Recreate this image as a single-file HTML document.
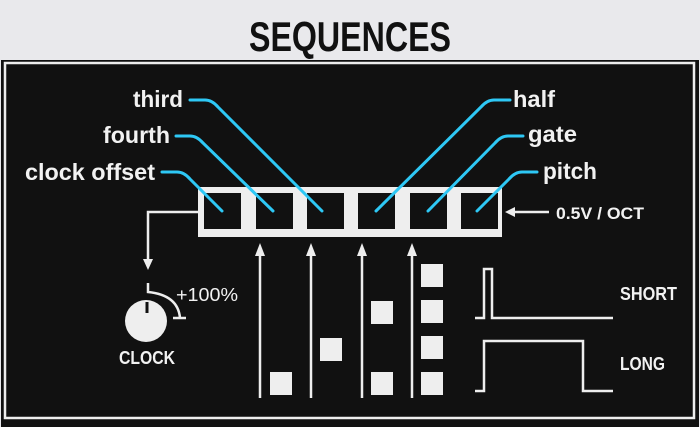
<!DOCTYPE html>
<html><head><meta charset="utf-8"><style>
html,body{margin:0;padding:0;background:#e9e9ec;}
svg{display:block}
text{font-family:"Liberation Sans Narrow","Liberation Sans",sans-serif;fill:#f2f2f2}
</style></head><body>
<svg width="700" height="427" viewBox="0 0 700 427" xmlns="http://www.w3.org/2000/svg">
<rect x="0" y="0" width="700" height="427" fill="#e9e9ec"/>
<text x="350" y="51" text-anchor="middle" font-size="42" font-weight="bold" style="fill:#111" textLength="202" lengthAdjust="spacingAndGlyphs">SEQUENCES</text>
<rect x="1" y="60" width="698" height="367" fill="#111"/>
<rect x="5" y="63" width="689" height="355" fill="none" stroke="#eee" stroke-width="2.5"/>
<!-- box row -->
<rect x="198" y="187" width="304" height="50" fill="#eee"/>
<g fill="#111">
<rect x="204" y="193" width="37" height="36"/><rect x="256" y="193" width="37" height="36"/><rect x="307" y="193" width="37" height="36"/><rect x="358" y="193" width="37" height="36"/><rect x="410" y="193" width="37" height="36"/><rect x="461" y="193" width="37" height="36"/>
</g>
<!-- cyan leaders -->
<g fill="none" stroke="#2ec8f5" stroke-width="3" stroke-linecap="round">
<path d="M190,100 H205 Q212,100 218,107 L322,211"/>
<path d="M176,136 H190 Q197,136 203,143 L273,211"/>
<path d="M162,172 H177 Q184,172 190,179 L222,211"/>
<path d="M510,100 H494 Q487,100 481,107 L376,211"/>
<path d="M523,136 H508 Q501,136 495,143 L428,211"/>
<path d="M537,172 H522 Q515,172 509,179 L477,211"/>
</g>
<!-- labels -->
<g font-size="23" font-weight="bold">
<text x="133" y="107" textLength="50" lengthAdjust="spacingAndGlyphs">third</text>
<text x="103" y="143" textLength="67" lengthAdjust="spacingAndGlyphs">fourth</text>
<text x="25" y="180" textLength="130" lengthAdjust="spacingAndGlyphs">clock offset</text>
<text x="513" y="107" textLength="42" lengthAdjust="spacingAndGlyphs">half</text>
<text x="528" y="142" textLength="49" lengthAdjust="spacingAndGlyphs">gate</text>
<text x="543" y="179" textLength="54" lengthAdjust="spacingAndGlyphs">pitch</text>
</g>
<!-- 0.5V/OCT arrow -->
<line x1="549" y1="212" x2="512" y2="212" stroke="#eee" stroke-width="2.5"/>
<path d="M505,212 L515,207 L515,217 Z" fill="#eee"/>
<text x="556" y="219" font-size="17" font-weight="bold" textLength="88" lengthAdjust="spacingAndGlyphs">0.5V / OCT</text>
<!-- clock output -->
<path d="M198,212 H148 V262" fill="none" stroke="#eee" stroke-width="2.5"/>
<path d="M148,270 L143,259 L153,259 Z" fill="#eee"/>
<circle cx="146" cy="321" r="21" fill="#eee"/>
<line x1="147" y1="302" x2="147" y2="313" stroke="#111" stroke-width="3"/>
<path d="M148,283 V292 Q178,295 180,318" fill="none" stroke="#eee" stroke-width="2.5"/>
<line x1="173" y1="318" x2="186" y2="318" stroke="#eee" stroke-width="2.5"/>
<text x="176" y="301" font-size="18" textLength="62" lengthAdjust="spacingAndGlyphs">+100%</text>
<text x="119" y="364" font-size="18" font-weight="bold" textLength="56" lengthAdjust="spacingAndGlyphs">CLOCK</text>
<!-- vertical arrows -->
<g stroke="#eee" stroke-width="2.5">
<line x1="260" y1="398" x2="260" y2="252"/><line x1="311" y1="398" x2="311" y2="252"/><line x1="362" y1="398" x2="362" y2="252"/><line x1="412" y1="398" x2="412" y2="252"/>
</g>
<g fill="#eee">
<path d="M260,243 L255,256 L265,256 Z"/><path d="M311,243 L306,256 L316,256 Z"/><path d="M362,243 L357,256 L367,256 Z"/><path d="M412,243 L407,256 L417,256 Z"/>
<rect x="270" y="372" width="22" height="23"/>
<rect x="320" y="338" width="22" height="23"/>
<rect x="371" y="301" width="22" height="23"/><rect x="371" y="372" width="22" height="23"/>
<rect x="421" y="264" width="22" height="23"/><rect x="421" y="300" width="22" height="23"/><rect x="421" y="336" width="22" height="23"/><rect x="421" y="372" width="22" height="23"/>
</g>
<!-- pulses -->
<g fill="none" stroke="#eee" stroke-width="2.5">
<path d="M475,318 H484 V269 H492 V318 H613"/>
<path d="M475,391 H484 V341 H583 V391 H613"/>
</g>
<text x="620" y="300" font-size="18" font-weight="bold" textLength="57" lengthAdjust="spacingAndGlyphs">SHORT</text>
<text x="620" y="370" font-size="18" font-weight="bold" textLength="45" lengthAdjust="spacingAndGlyphs">LONG</text>
</svg>
</body></html>
